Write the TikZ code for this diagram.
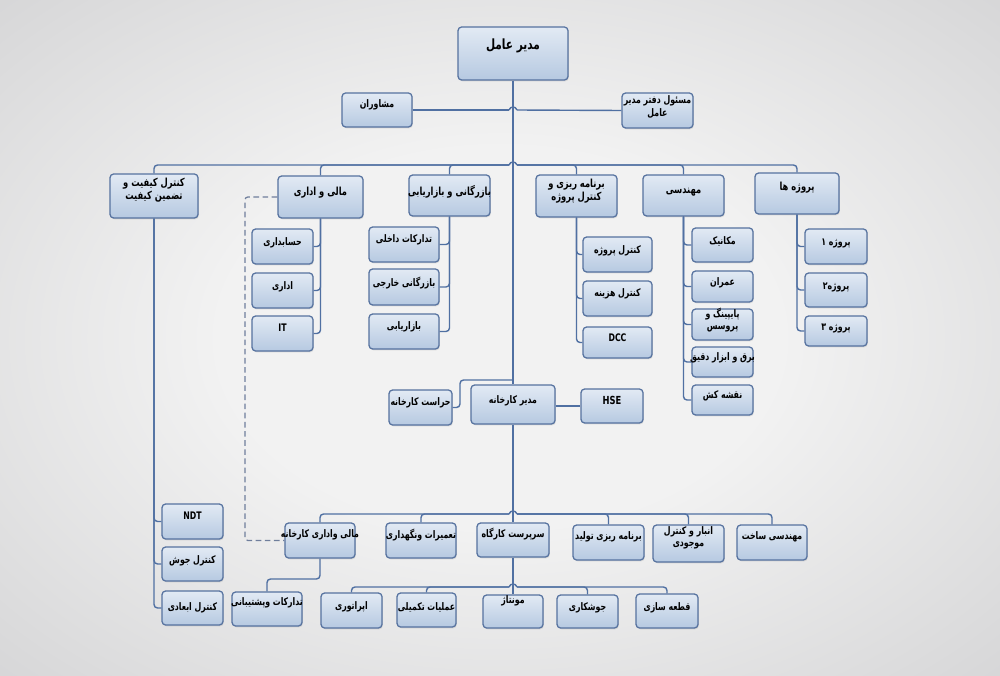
\documentclass[tikz,border=0pt]{standalone}
\usepackage{fontspec}
\setmainfont{DejaVu Sans}
\newfontfamily\fa[Script=Arabic, FakeStretch=0.75]{DejaVu Sans}
\TeXXeTstate=1
\usetikzlibrary{shadows,calc}
\definecolor{bgin}{HTML}{F2F2F2}
\definecolor{bgout}{HTML}{C4C4C6}
\definecolor{bgout2}{HTML}{B7B7B9}
\definecolor{boxtop}{HTML}{E2EAF4}
\definecolor{boxbot}{HTML}{B6C9E1}
\definecolor{boxline}{HTML}{56729F}
\definecolor{conncol}{HTML}{5070A2}
\definecolor{dashcol}{HTML}{6F7E9C}
\pgfdeclareradialshading{bgshade}{\pgfpoint{0bp}{0bp}}{color(0bp)=(bgin); color(14bp)=(bgin); color(50bp)=(bgout); color(72bp)=(bgout2)}
\newcommand{\R}[1]{\beginR #1\endR}
\tikzset{
  box/.style={draw=boxline, line width=0.9pt, rounded corners=2.6pt, top color=boxtop, bottom color=boxbot, inner sep=0pt,
    drop shadow={opacity=0.22, shadow xshift=0.6pt, shadow yshift=-0.9pt}},
  lbl/.style={font=\fa\bfseries\fontsize{7.4}{8.8}\selectfont, align=center, inner sep=0pt, text=black},
  big/.style={font=\fa\bfseries\fontsize{10}{12}\selectfont},
  mid/.style={font=\fa\bfseries\fontsize{7.9}{9.4}\selectfont},
  conn/.style={draw=conncol, line width=1pt, rounded corners=2.5pt},
  dconn/.style={draw=dashcol, line width=0.9pt, dash pattern=on 4pt off 2.5pt, rounded corners=2pt},
}
\newcommand{\obox}[8]{%
  \node[box, minimum width={(#4-#2)*0.025cm}, minimum height={(#5-#3)*0.025cm}] (#1) at ({(#2+#4)/2},{(#3+#5)/2}) {};
  \node[lbl,#7] (#1-t) at ({(#2+#4)/2},#6) {#8};
}
\begin{document}
\begin{tikzpicture}[x=0.025cm, y=-0.025cm]
\useasboundingbox (0,0) rectangle (1000,676);
\shade[shading=bgshade] (0,0) rectangle (1000,676);

% top
\obox{ceo}{458}{27}{568}{80}{46}{big}{\R{مدیر عامل}}
\obox{mosh}{342}{93}{412}{127}{105}{}{\R{مشاوران}}
\obox{office}{622}{93}{693}{128}{107}{}{\R{مسئول دفتر مدیر}\\\R{عامل}}

% level 2
\obox{qc}{110}{174}{198}{218}{190}{mid}{\R{کنترل کیفیت و}\\\R{تضمین کیفیت}}
\obox{mali}{278}{176}{363}{218}{193}{mid}{\R{مالی و اداری}}
\obox{baz}{409}{175}{490}{216}{192}{mid}{\R{بازرگانی و بازاریابی}}
\obox{barn}{536}{175}{617}{217}{191}{mid}{\R{برنامه ریزی و}\\\R{کنترل پروژه}}
\obox{mohan}{643}{175}{724}{216}{192}{mid}{\R{مهندسی}}
\obox{proj}{755}{173}{839}{214}{188}{mid}{\R{پروژه ها}}

% children of mali
\obox{hesab}{252}{229}{313}{264}{243}{}{\R{حسابداری}}
\obox{edari}{252}{273}{313}{308}{287}{}{\R{اداری}}
\obox{it}{252}{316}{313}{351}{328}{}{IT}
% children of baz
\obox{tad}{369}{227}{439}{262}{240}{}{\R{تدارکات داخلی}}
\obox{khar}{369}{269}{439}{305}{283}{}{\R{بازرگانی خارجی}}
\obox{bazy}{369}{314}{439}{349}{327}{}{\R{بازاریابی}}
% children of barn
\obox{kp}{583}{237}{652}{272}{251}{}{\R{کنترل پروژه}}
\obox{kh}{583}{281}{652}{316}{294}{}{\R{کنترل هزینه}}
\obox{dcc}{583}{327}{652}{358}{338}{}{DCC}
% children of mohan
\obox{mek}{692}{228}{753}{262}{241}{}{\R{مکانیک}}
\obox{omr}{692}{271}{753}{302}{283}{}{\R{عمران}}
\obox{pip}{692}{309}{753}{340}{320}{}{\R{پایپینگ و}\\\R{پروسس}}
\obox{bargh}{692}{347}{753}{377}{358}{}{\R{برق و ابزار دقیق}}
\obox{naghsh}{692}{385}{753}{415}{396}{}{\R{نقشه کش}}
% children of proj
\obox{pa}{805}{229}{867}{264}{243}{}{\R{پروژه ۱}}
\obox{pb}{805}{273}{867}{307}{287}{}{\R{پروژه۲}}
\obox{pc}{805}{316}{867}{346}{328}{}{\R{پروژه ۳}}

% middle
\obox{herasat}{389}{390}{452}{425}{403}{}{\R{حراست کارخانه}}
\obox{plant}{471}{385}{555}{424}{401}{}{\R{مدیر کارخانه}}
\obox{hse}{581}{389}{643}{423}{400}{mid}{HSE}

% qc children
\obox{ndt}{162}{504}{223}{539}{516}{}{NDT}
\obox{josh}{162}{547}{223}{581}{561}{}{\R{کنترل جوش}}
\obox{abad}{162}{591}{223}{625}{608}{}{\R{کنترل ابعادی}}

% plant children
\obox{malik}{285}{523}{355}{558}{535}{}{\R{مالی واداری کارخانه}}
\obox{tamir}{386}{523}{456}{558}{535}{}{\R{تعمیرات ونگهداری}}
\obox{sarp}{477}{523}{549}{557}{534}{}{\R{سرپرست کارگاه}}
\obox{btol}{573}{525}{644}{560}{537}{}{\R{برنامه ریزی تولید}}
\obox{anbar}{653}{525}{724}{562}{538}{}{\R{انبار و کنترل}\\\R{موجودی}}
\obox{msakht}{737}{525}{807}{560}{537}{}{\R{مهندسی ساخت}}

% bottom row
\obox{tp}{232}{592}{302}{626}{603}{}{\R{تدارکات وپشتیبانی}}
\obox{oper}{321}{593}{382}{628}{607}{}{\R{اپراتوری}}
\obox{takm}{397}{593}{456}{627}{607}{}{\R{عملیات تکمیلی}}
\obox{montaj}{483}{595}{543}{628}{601}{}{\R{مونتاژ}}
\obox{joshk}{557}{595}{618}{628}{608}{}{\R{جوشکاری}}
\obox{ghate}{636}{594}{698}{628}{608}{}{\R{قطعه سازی}}

% hop coordinates
\coordinate (h0L) at (509,110); \coordinate (h0R) at (517,110);
\coordinate (h1L) at (509,165); \coordinate (h1R) at (517,165);
\coordinate (h2L) at (509,514); \coordinate (h2R) at (517,514);
\coordinate (h3L) at (509,587); \coordinate (h3R) at (517,587);
\coordinate (hj) at (460,380);
\coordinate (hjt) at (513,380);
\coordinate (tpj) at (267,579);
\coordinate (dsh) at (245,300);

% trunks
\draw[conn] (ceo.south) -- (plant.north);
\draw[conn] (plant.south) -- (sarp.north);
\draw[conn] (sarp.south) -- (montaj.north);

% hops
\foreach \n in {0,1,2,3}{
  \draw[conn] (h\n L) .. controls +(1.5,-4) and +(-1.5,-4) .. (h\n R);
}

% top advisors line
\draw[conn] (mosh.east) -- (h0L);
\draw[conn] (h0R) -- (office.west);

% level-2 bus
\foreach \b in {qc,mali,baz}{ \draw[conn] (\b.north) |- (h1L); }
\foreach \b in {barn,mohan,proj}{ \draw[conn] (\b.north) |- (h1R); }

% children
\foreach \c in {hesab,edari,it}{ \draw[conn] (mali.south) |- (\c.east); }
\foreach \c in {tad,khar,bazy}{ \draw[conn] (baz.south) |- (\c.east); }
\foreach \c in {kp,kh,dcc}{ \draw[conn] (barn.south) |- (\c.west); }
\foreach \c in {mek,omr,pip,bargh,naghsh}{ \draw[conn] (mohan.south) |- (\c.west); }
\foreach \c in {pa,pb,pc}{ \draw[conn] (proj.south) |- (\c.west); }
\foreach \c in {ndt,josh,abad}{ \draw[conn] (qc.south) |- (\c.west); }

% middle
\draw[conn] (herasat.east) -| (hj) -- (hjt);
\draw[conn] (plant.east |- hse.west) -- (hse.west);

% plant bus
\foreach \b in {malik,tamir}{ \draw[conn] (\b.north) |- (h2L); }
\foreach \b in {btol,anbar,msakht}{ \draw[conn] (\b.north) |- (h2R); }

% sarp bus
\foreach \b in {oper,takm}{ \draw[conn] (\b.north) |- (h3L); }
\foreach \b in {joshk,ghate}{ \draw[conn] (\b.north) |- (h3R); }

% malik -> tp
\draw[conn] (malik.south) |- (tpj) -- (tp.north);

% dashed link
\draw[dconn] (mali.west) -| (dsh) |- (malik.west);
\end{tikzpicture}
\end{document}
